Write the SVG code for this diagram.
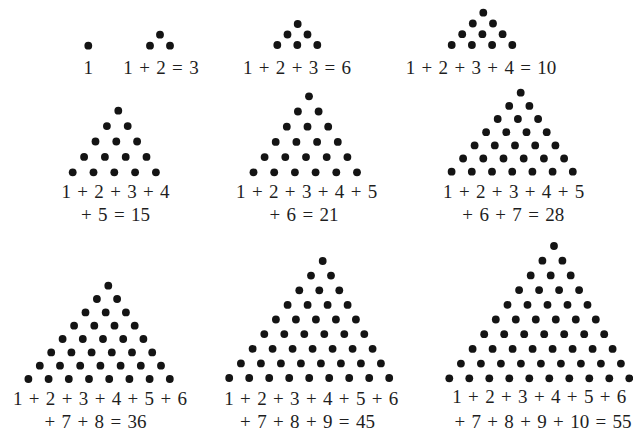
<svg xmlns="http://www.w3.org/2000/svg" width="633" height="434" viewBox="0 0 633 434">
<style>
circle{r:3.9px;fill:#141414}
text{font-size:19px;fill:#1e1e1e;text-anchor:middle;word-spacing:1.6px}
</style>
<rect width="633" height="434" fill="#fff"/>
<g font-family="Liberation Serif, Times New Roman, serif">
<g id="t1"><circle cx="88.3" cy="45.7"/><text x="88.3" y="74">1</text></g>
<g id="t2"><circle cx="160" cy="34.7"/><circle cx="150" cy="45.7"/><circle cx="170" cy="45.7"/><text x="161" y="74">1 + 2 = 3</text></g>
<g id="t3"><circle cx="297.7" cy="24"/><circle cx="287.5" cy="34.5"/><circle cx="307.5" cy="34.5"/><circle cx="277.3" cy="45"/><circle cx="297.3" cy="45"/><circle cx="317.3" cy="45"/><text x="297" y="74">1 + 2 + 3 = 6</text></g>
<g id="t4">
<circle cx="483.3" cy="12.7"/>
<circle cx="472.8" cy="23.5"/><circle cx="493" cy="23.5"/>
<circle cx="462.2" cy="34.2"/><circle cx="482.4" cy="34.2"/><circle cx="502.6" cy="34.2"/>
<circle cx="451.7" cy="45"/><circle cx="471.9" cy="45"/><circle cx="492.1" cy="45"/><circle cx="512.3" cy="45"/>
<text x="481" y="74">1 + 2 + 3 + 4 = 10</text></g>
<g id="t5">
<circle cx="118.3" cy="110.7"/>
<circle cx="106.9" cy="126.1"/><circle cx="127.7" cy="126.1"/>
<circle cx="95.5" cy="141.5"/><circle cx="116.3" cy="141.5"/><circle cx="137.1" cy="141.5"/>
<circle cx="84.1" cy="156.9"/><circle cx="104.9" cy="156.9"/><circle cx="125.7" cy="156.9"/><circle cx="146.5" cy="156.9"/>
<circle cx="72.7" cy="172.3"/><circle cx="93.5" cy="172.3"/><circle cx="114.3" cy="172.3"/><circle cx="135.1" cy="172.3"/><circle cx="155.9" cy="172.3"/>
<text x="115.5" y="198">1 + 2 + 3 + 4</text><text x="115.5" y="221">+ 5 = 15</text></g>
<g id="t6">
<circle cx="309" cy="96.3"/>
<circle cx="297.9" cy="111.5"/><circle cx="318.6" cy="111.5"/>
<circle cx="286.8" cy="126.7"/><circle cx="307.5" cy="126.7"/><circle cx="328.2" cy="126.7"/>
<circle cx="275.7" cy="141.9"/><circle cx="296.4" cy="141.9"/><circle cx="317.1" cy="141.9"/><circle cx="337.8" cy="141.9"/>
<circle cx="264.6" cy="157.1"/><circle cx="285.3" cy="157.1"/><circle cx="306" cy="157.1"/><circle cx="326.7" cy="157.1"/><circle cx="347.4" cy="157.1"/>
<circle cx="253.5" cy="172.3"/><circle cx="274.2" cy="172.3"/><circle cx="294.9" cy="172.3"/><circle cx="315.6" cy="172.3"/><circle cx="336.3" cy="172.3"/><circle cx="357" cy="172.3"/>
<text x="306.7" y="198">1 + 2 + 3 + 4 + 5</text><text x="304" y="221">+ 6 = 21</text></g>
<g id="t7">
<circle cx="520.7" cy="92.7"/>
<circle cx="509.2" cy="105.9"/><circle cx="529.4" cy="105.9"/>
<circle cx="497.7" cy="119"/><circle cx="517.9" cy="119"/><circle cx="538.1" cy="119"/>
<circle cx="486.1" cy="132.2"/><circle cx="506.3" cy="132.2"/><circle cx="526.5" cy="132.2"/><circle cx="546.7" cy="132.2"/>
<circle cx="474.6" cy="145.4"/><circle cx="494.8" cy="145.4"/><circle cx="515" cy="145.4"/><circle cx="535.2" cy="145.4"/><circle cx="555.4" cy="145.4"/>
<circle cx="463.1" cy="158.5"/><circle cx="483.3" cy="158.5"/><circle cx="503.5" cy="158.5"/><circle cx="523.7" cy="158.5"/><circle cx="543.9" cy="158.5"/><circle cx="564.1" cy="158.5"/>
<circle cx="451.6" cy="171.7"/><circle cx="471.8" cy="171.7"/><circle cx="492" cy="171.7"/><circle cx="512.2" cy="171.7"/><circle cx="532.4" cy="171.7"/><circle cx="552.6" cy="171.7"/><circle cx="572.8" cy="171.7"/>
<text x="513.7" y="198">1 + 2 + 3 + 4 + 5</text><text x="513.3" y="221">+ 6 + 7 = 28</text></g>
<g id="t8">
<circle cx="108.3" cy="285.7"/>
<circle cx="96.9" cy="299"/><circle cx="117.1" cy="299"/>
<circle cx="85.5" cy="312.4"/><circle cx="105.7" cy="312.4"/><circle cx="125.9" cy="312.4"/>
<circle cx="74.1" cy="325.7"/><circle cx="94.3" cy="325.7"/><circle cx="114.5" cy="325.7"/><circle cx="134.7" cy="325.7"/>
<circle cx="62.6" cy="339"/><circle cx="82.8" cy="339"/><circle cx="103" cy="339"/><circle cx="123.2" cy="339"/><circle cx="143.4" cy="339"/>
<circle cx="51.2" cy="352.4"/><circle cx="71.4" cy="352.4"/><circle cx="91.6" cy="352.4"/><circle cx="111.8" cy="352.4"/><circle cx="132" cy="352.4"/><circle cx="152.2" cy="352.4"/>
<circle cx="39.8" cy="365.7"/><circle cx="60" cy="365.7"/><circle cx="80.2" cy="365.7"/><circle cx="100.4" cy="365.7"/><circle cx="120.6" cy="365.7"/><circle cx="140.8" cy="365.7"/><circle cx="161" cy="365.7"/>
<circle cx="28.4" cy="379"/><circle cx="48.6" cy="379"/><circle cx="68.8" cy="379"/><circle cx="89" cy="379"/><circle cx="109.2" cy="379"/><circle cx="129.4" cy="379"/><circle cx="149.6" cy="379"/><circle cx="169.8" cy="379"/>
<text x="100" y="405">1 + 2 + 3 + 4 + 5 + 6</text><text x="95.5" y="428">+ 7 + 8 = 36</text></g>
<g id="t9">
<circle cx="322.7" cy="261"/>
<circle cx="311" cy="275.6"/><circle cx="331" cy="275.6"/>
<circle cx="299.3" cy="290.3"/><circle cx="319.3" cy="290.3"/><circle cx="339.3" cy="290.3"/>
<circle cx="287.6" cy="304.9"/><circle cx="307.6" cy="304.9"/><circle cx="327.6" cy="304.9"/><circle cx="347.6" cy="304.9"/>
<circle cx="275.9" cy="319.5"/><circle cx="295.9" cy="319.5"/><circle cx="315.9" cy="319.5"/><circle cx="335.9" cy="319.5"/><circle cx="355.9" cy="319.5"/>
<circle cx="264.3" cy="334.1"/><circle cx="284.3" cy="334.1"/><circle cx="304.3" cy="334.1"/><circle cx="324.3" cy="334.1"/><circle cx="344.3" cy="334.1"/><circle cx="364.3" cy="334.1"/>
<circle cx="252.6" cy="348.8"/><circle cx="272.6" cy="348.8"/><circle cx="292.6" cy="348.8"/><circle cx="312.6" cy="348.8"/><circle cx="332.6" cy="348.8"/><circle cx="352.6" cy="348.8"/><circle cx="372.6" cy="348.8"/>
<circle cx="240.9" cy="363.4"/><circle cx="260.9" cy="363.4"/><circle cx="280.9" cy="363.4"/><circle cx="300.9" cy="363.4"/><circle cx="320.9" cy="363.4"/><circle cx="340.9" cy="363.4"/><circle cx="360.9" cy="363.4"/><circle cx="380.9" cy="363.4"/>
<circle cx="229.2" cy="378"/><circle cx="249.2" cy="378"/><circle cx="269.2" cy="378"/><circle cx="289.2" cy="378"/><circle cx="309.2" cy="378"/><circle cx="329.2" cy="378"/><circle cx="349.2" cy="378"/><circle cx="369.2" cy="378"/><circle cx="389.2" cy="378"/>
<text x="311.3" y="405">1 + 2 + 3 + 4 + 5 + 6</text><text x="307.5" y="428">+ 7 + 8 + 9 = 45</text></g>
<g id="t10">
<circle cx="554" cy="246"/>
<circle cx="542.4" cy="260.7"/><circle cx="562.4" cy="260.7"/>
<circle cx="530.7" cy="275.4"/><circle cx="550.7" cy="275.4"/><circle cx="570.7" cy="275.4"/>
<circle cx="519.1" cy="290.1"/><circle cx="539.1" cy="290.1"/><circle cx="559.1" cy="290.1"/><circle cx="579.1" cy="290.1"/>
<circle cx="507.5" cy="304.8"/><circle cx="527.5" cy="304.8"/><circle cx="547.5" cy="304.8"/><circle cx="567.5" cy="304.8"/><circle cx="587.5" cy="304.8"/>
<circle cx="495.8" cy="319.5"/><circle cx="515.8" cy="319.5"/><circle cx="535.8" cy="319.5"/><circle cx="555.8" cy="319.5"/><circle cx="575.8" cy="319.5"/><circle cx="595.8" cy="319.5"/>
<circle cx="484.2" cy="334.2"/><circle cx="504.2" cy="334.2"/><circle cx="524.2" cy="334.2"/><circle cx="544.2" cy="334.2"/><circle cx="564.2" cy="334.2"/><circle cx="584.2" cy="334.2"/><circle cx="604.2" cy="334.2"/>
<circle cx="472.6" cy="348.9"/><circle cx="492.6" cy="348.9"/><circle cx="512.6" cy="348.9"/><circle cx="532.6" cy="348.9"/><circle cx="552.6" cy="348.9"/><circle cx="572.6" cy="348.9"/><circle cx="592.6" cy="348.9"/><circle cx="612.6" cy="348.9"/>
<circle cx="460.9" cy="363.6"/><circle cx="480.9" cy="363.6"/><circle cx="500.9" cy="363.6"/><circle cx="520.9" cy="363.6"/><circle cx="540.9" cy="363.6"/><circle cx="560.9" cy="363.6"/><circle cx="580.9" cy="363.6"/><circle cx="600.9" cy="363.6"/><circle cx="620.9" cy="363.6"/>
<circle cx="449.3" cy="378.3"/><circle cx="469.3" cy="378.3"/><circle cx="489.3" cy="378.3"/><circle cx="509.3" cy="378.3"/><circle cx="529.3" cy="378.3"/><circle cx="549.3" cy="378.3"/><circle cx="569.3" cy="378.3"/><circle cx="589.3" cy="378.3"/><circle cx="609.3" cy="378.3"/><circle cx="629.3" cy="378.3"/>
<text x="539.3" y="403">1 + 2 + 3 + 4 + 5 + 6</text><text x="543" y="428">+ 7 + 8 + 9 + 10 = 55</text></g>
</g>
</svg>
